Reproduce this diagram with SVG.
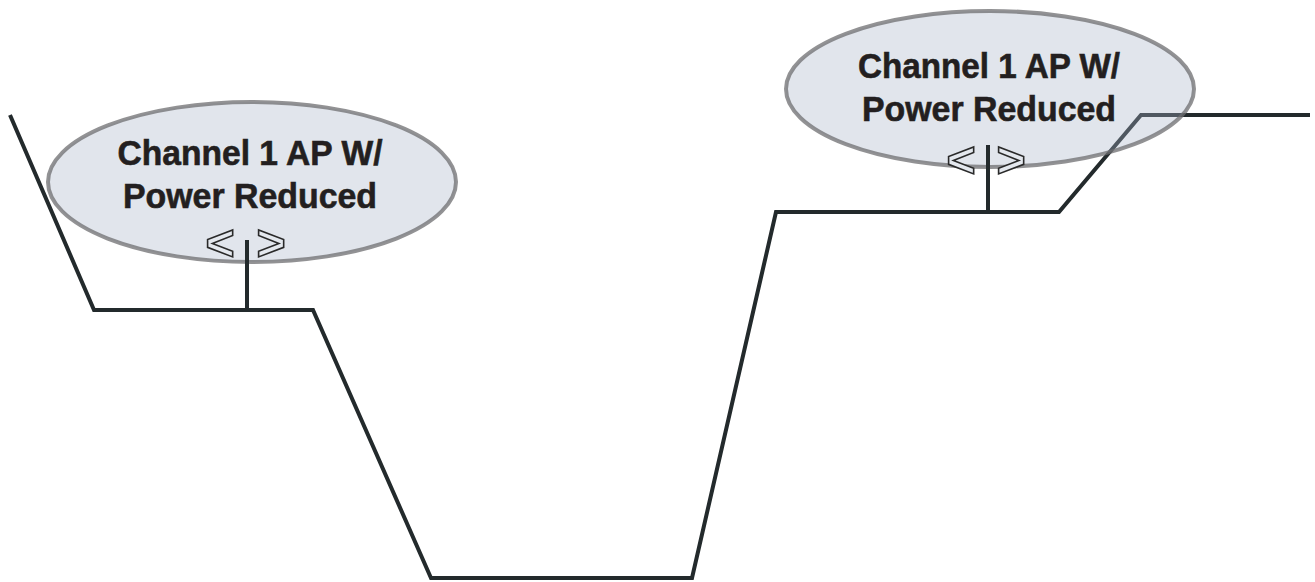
<svg xmlns="http://www.w3.org/2000/svg" width="1315" height="582" viewBox="0 0 1315 582">
  <style>
    .trace { fill: none; stroke: #232a2c; stroke-width: 4; stroke-linejoin: miter; }
    .stem { fill: none; stroke: #232a2c; stroke-width: 4; }
    .bubble { fill: #a7b2c7; fill-opacity: 0.34; stroke: #6d6d70; stroke-opacity: 0.75; stroke-width: 4; }
    .label { font-family: "Liberation Sans", Arial, sans-serif; font-weight: bold; font-size: 35px; fill: #231f20; stroke: #231f20; stroke-width: 0.6; text-anchor: middle; }
    .chev { font-family: "Liberation Sans", Arial, sans-serif; font-weight: bold; font-size: 50px; fill: #e4e8ee; stroke: #2a2a2a; stroke-width: 1.6; stroke-linejoin: miter; text-anchor: middle; }
  </style>
  <rect width="1315" height="582" fill="#ffffff"/>

  <g id="connectors">
    <polyline class="trace" points="10,115 94,310 313,310 431,578 692,578 776,212 1059,212 1141,115 1310,115"/>
  </g>

  <g id="ap-left">
    <ellipse class="bubble" cx="252" cy="182" rx="204" ry="80"/>
    <line class="stem" x1="247" y1="240" x2="247" y2="310"/>
    <text class="label" x="250" y="165" textLength="265" lengthAdjust="spacingAndGlyphs">Channel 1 AP W/</text>
    <text class="label" x="250" y="208" textLength="254" lengthAdjust="spacingAndGlyphs">Power Reduced</text>
    <text class="chev" x="220" y="260">&lt;</text>
    <text class="chev" x="271" y="260">&gt;</text>
  </g>

  <g id="ap-right">
    <ellipse class="bubble" cx="990" cy="89" rx="204" ry="78"/>
    <line class="stem" x1="988" y1="145" x2="988" y2="212"/>
    <text class="label" x="989" y="78" textLength="262" lengthAdjust="spacingAndGlyphs">Channel 1 AP W/</text>
    <text class="label" x="989" y="121" textLength="254" lengthAdjust="spacingAndGlyphs">Power Reduced</text>
    <text class="chev" x="961" y="177">&lt;</text>
    <text class="chev" x="1011" y="177">&gt;</text>
  </g>
</svg>
